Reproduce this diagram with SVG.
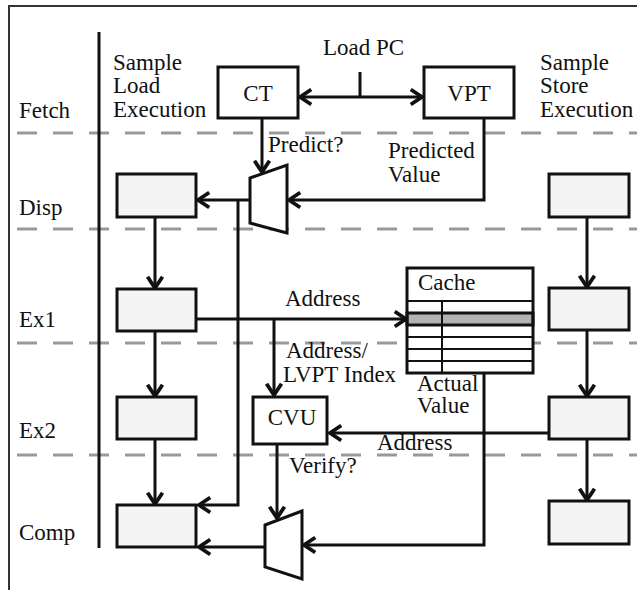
<svg xmlns="http://www.w3.org/2000/svg" width="637" height="590" viewBox="0 0 637 590">
  <style>
    text { font-family: "Liberation Serif", "DejaVu Serif", serif; font-size: 23px; fill: #111; }
    .mid { text-anchor: middle; }
    .frame { fill: none; stroke: #333; stroke-width: 2; }
    .stage { fill: none; stroke: #999; stroke-width: 3; stroke-dasharray: 20 16; }
    .box { fill: #fff; stroke: #111; stroke-width: 3; }
    .outline { fill: none; stroke: #111; stroke-width: 3; }
    .slot { fill: #f4f4f4; stroke: #111; stroke-width: 3; }
    .wire { fill: none; stroke: #111; stroke-width: 3; }
    .arrow { fill: none; stroke: #111; stroke-width: 3; marker-end: url(#head); }
    .grid { fill: none; stroke: #111; stroke-width: 2; }
  </style>
  <defs>
    <marker id="head" markerUnits="userSpaceOnUse" markerWidth="20" markerHeight="20" viewBox="-12 -8 14 16" refX="0" refY="0" orient="auto">
      <path d="M-9,-6 L0,0 L-9,6" fill="none" stroke="#111" stroke-width="3"/>
    </marker>
  </defs>
  <rect width="637" height="590" fill="#fff"/>

  <!-- outer frame -->
  <path class="frame" d="M9,590 V6 H637"/>

  <!-- pipeline stage separators -->
  <g id="stages">
    <line class="stage" x1="17" y1="133" x2="637" y2="133"/>
    <line class="stage" x1="17" y1="229" x2="637" y2="229"/>
    <line class="stage" x1="17" y1="343" x2="637" y2="343"/>
    <line class="stage" x1="17" y1="455" x2="637" y2="455"/>
    <line x1="99" y1="32" x2="99" y2="548" stroke="#111" stroke-width="3"/>
  </g>

  <!-- stage names and column headings -->
  <g id="labels">
    <text x="19" y="118">Fetch</text>
    <text x="19" y="215">Disp</text>
    <text x="19" y="327">Ex1</text>
    <text x="19" y="438">Ex2</text>
    <text x="19" y="540">Comp</text>
    <text x="113" y="70">Sample</text>
    <text x="113" y="93">Load</text>
    <text x="113" y="117">Execution</text>
    <text x="540" y="70">Sample</text>
    <text x="540" y="93">Store</text>
    <text x="540" y="117">Execution</text>
  </g>

  <!-- connectors -->
  <g id="connectors">
    <!-- Load PC fan-out to CT and VPT -->
    <line class="wire" x1="360" y1="72" x2="360" y2="97"/>
    <line class="arrow" x1="360" y1="97" x2="300" y2="97"/>
    <line class="arrow" x1="360" y1="97" x2="422" y2="97"/>
    <!-- CT predict? into dispatch mux -->
    <line class="arrow" x1="262" y1="118" x2="262" y2="172"/>
    <!-- VPT predicted value into dispatch mux -->
    <polyline class="arrow" points="484,118 484,200 289,200"/>
    <!-- dispatch mux out -->
    <line class="arrow" x1="250" y1="200" x2="198" y2="200"/>
    <polyline class="arrow" points="238,200 238,505 199,505"/>
    <!-- load column -->
    <line class="arrow" x1="155" y1="217" x2="155" y2="288"/>
    <line class="arrow" x1="155" y1="331" x2="155" y2="396"/>
    <line class="arrow" x1="155" y1="439" x2="155" y2="504"/>
    <!-- address to cache and CVU -->
    <line class="arrow" x1="196" y1="319" x2="406" y2="319"/>
    <line class="arrow" x1="274" y1="319" x2="274" y2="395"/>
    <!-- store column -->
    <line class="arrow" x1="587" y1="217" x2="587" y2="287"/>
    <line class="arrow" x1="587" y1="330" x2="587" y2="396"/>
    <line class="arrow" x1="587" y1="439" x2="587" y2="500"/>
    <!-- store address to CVU -->
    <line class="arrow" x1="549" y1="433" x2="330" y2="433"/>
    <!-- actual value to completion mux -->
    <polyline class="arrow" points="484,373 484,545 304,545"/>
    <!-- verify? into completion mux -->
    <line class="arrow" x1="277" y1="444" x2="277" y2="518"/>
    <!-- completion mux out -->
    <line class="arrow" x1="265" y1="547" x2="199" y2="547"/>
  </g>

  <g id="ct">
    <rect class="box" x="218" y="67" width="80" height="51"/>
    <text class="mid" x="258" y="101">CT</text>
  </g>
  <g id="vpt">
    <rect class="box" x="424" y="67" width="90" height="51"/>
    <text class="mid" x="469" y="101">VPT</text>
  </g>
  <g id="load-pc">
    <text x="323" y="55">Load PC</text>
  </g>

  <g id="disp-mux">
    <polygon class="box" points="250,178 287,165 287,233 250,223"/>
  </g>
  <g id="comp-mux">
    <polygon class="box" points="265,525 302,511 302,579 265,567"/>
  </g>

  <!-- load pipeline slots -->
  <g id="load-disp"><rect class="slot" x="117" y="174" width="79" height="43"/></g>
  <g id="load-ex1"><rect class="slot" x="117" y="289" width="79" height="42"/></g>
  <g id="load-ex2"><rect class="slot" x="117" y="397" width="79" height="42"/></g>
  <g id="load-comp"><rect class="slot" x="117" y="505" width="79" height="42"/></g>

  <!-- store pipeline slots -->
  <g id="store-disp"><rect class="slot" x="549" y="174" width="80" height="43"/></g>
  <g id="store-ex1"><rect class="slot" x="549" y="288" width="80" height="42"/></g>
  <g id="store-ex2"><rect class="slot" x="549" y="397" width="80" height="42"/></g>
  <g id="store-comp"><rect class="slot" x="549" y="501" width="80" height="43"/></g>

  <g id="cache">
    <rect x="407" y="268" width="126" height="105" fill="#fff"/>
    <rect x="407" y="313" width="126" height="12" fill="#b3b3b3"/>
    <line class="grid" x1="407" y1="301" x2="533" y2="301"/>
    <line class="grid" x1="407" y1="337" x2="533" y2="337"/>
    <line class="grid" x1="407" y1="349" x2="533" y2="349"/>
    <line class="grid" x1="407" y1="361" x2="533" y2="361"/>
    <line class="grid" x1="442" y1="301" x2="442" y2="373"/>
    <rect class="outline" x="407" y="313" width="126" height="12"/>
    <rect class="outline" x="407" y="268" width="126" height="105"/>
    <text x="418" y="290">Cache</text>
  </g>

  <g id="cvu">
    <rect class="box" x="253" y="397" width="74" height="47"/>
    <text class="mid" x="292" y="425">CVU</text>
  </g>

  <!-- connector labels -->
  <g id="connector-labels">
    <text x="268" y="152">Predict?</text>
    <text x="388" y="158">Predicted</text>
    <text x="388" y="182">Value</text>
    <text x="285" y="306">Address</text>
    <text x="286" y="358">Address/</text>
    <text x="283" y="382">LVPT Index</text>
    <text x="417" y="391">Actual</text>
    <text x="417" y="413">Value</text>
    <text x="377" y="450">Address</text>
    <text x="289" y="473">Verify?</text>
  </g>
</svg>
